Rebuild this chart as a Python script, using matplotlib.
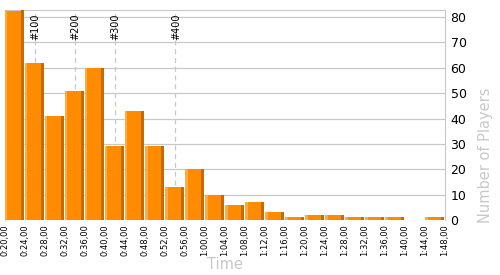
import matplotlib.pyplot as plt
import numpy as np

# bin edges in seconds (0:20 .. 1:48, every 4 s)
edges_sec = list(range(20, 109, 4))
counts = [83, 62, 41, 51, 60, 29, 43, 29, 13, 20, 10, 6, 7, 3, 1, 2, 2, 1, 1, 1, 0, 1]
marker_names = ["#100", "#200", "#300", "#400"]
marker_sec = [26, 34, 42, 54]

def fmt(s):
    return "%d:%02d,00" % (s // 60, s % 60)

tick_labels = [fmt(s) for s in edges_sec]

fig = plt.figure(figsize=(5, 2.75), dpi=100)
ax = fig.add_axes([0.01, 0.2, 0.88, 0.7636])

grid_c = "#c8c8c8"
for v in range(10, 90, 10):
    ax.axhline(v, color=grid_c, lw=0.9, zorder=0)

# dashed markers for player ranks
for xs, name in zip(marker_sec, marker_names):
    ax.axvline(xs, color=grid_c, lw=0.9, ls=(0, (4, 3)), zorder=0)
    ax.text(xs + 0.15, 81.5, name, rotation=90, fontsize=7, ha="center", va="top", zorder=1)

w = 4
gap = 0.2
left = np.array(edges_sec[:-1], dtype=float)
h = np.array(counts)
ax.bar(left, h, width=w - gap, align="edge", color="#ff8c00", lw=0, zorder=2)
ax.bar(left, h, width=0.5, align="edge", color="#ffaa44", lw=0, zorder=3)
ax.bar(left + w - gap - 0.6, h, width=0.6, align="edge", color="#c46c00", lw=0, zorder=3)

ax.set_xlim(20, 108)
ax.set_ylim(0, 82.8)
ax.set_xticks(edges_sec)
ax.set_xticklabels(tick_labels, rotation=90, fontsize=6)
ax.tick_params(axis="x", length=0, pad=3)

ax.yaxis.tick_right()
ax.yaxis.set_label_position("right")
ax.set_yticks(range(0, 90, 10))
ax.tick_params(axis="y", length=0, labelsize=9, pad=4)
ax.set_ylabel("Number of Players", color="#c8c8c8", fontsize=10.5)
ax.yaxis.set_label_coords(1.075, 0.31)
ax.set_xlabel("Time", color="#c8c8c8", fontsize=10.5)
ax.xaxis.set_label_coords(0.5, -0.175)

for side in ["left", "top", "right"]:
    ax.spines[side].set_color(grid_c)
ax.spines["bottom"].set_visible(False)

fig.savefig("out.png", dpi=100)
